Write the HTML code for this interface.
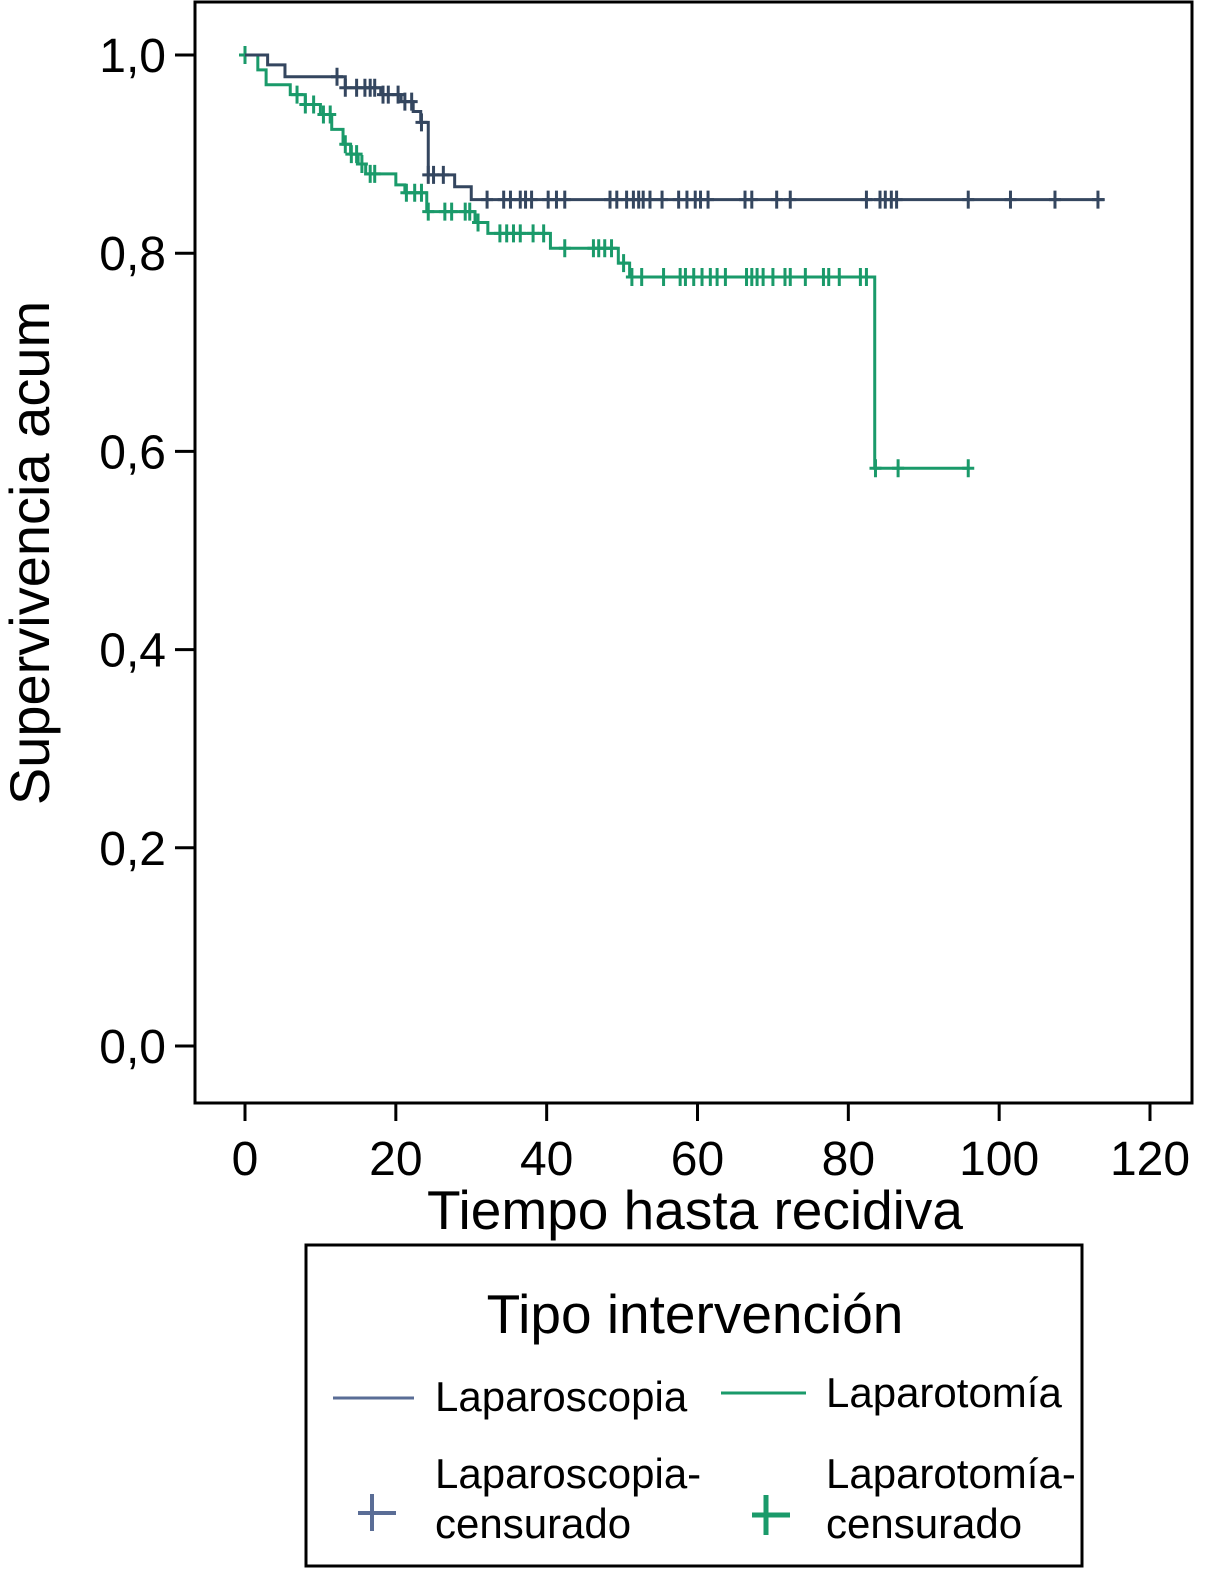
<!DOCTYPE html>
<html><head><meta charset="utf-8"><style>
html,body{margin:0;padding:0;background:#fff;width:1206px;height:1582px;overflow:hidden}
svg{display:block;font-family:"Liberation Sans",Arial,sans-serif}
</style></head><body>
<svg id="chart" width="1206" height="1582" viewBox="0 0 1206 1582">
<rect x="195" y="2" width="997" height="1101" fill="none" stroke="#000" stroke-width="3"/>
<g id="axes"></g>
<g id="series"></g>
<text x="695" y="1229" font-size="55" text-anchor="middle">Tiempo hasta recidiva</text>
<text transform="translate(49,553) rotate(-90)" font-size="56" text-anchor="middle">Supervivencia acum</text>
<g>
<rect x="306" y="1245" width="776" height="321" fill="none" stroke="#000" stroke-width="3"/>
<text x="695" y="1333" font-size="55" text-anchor="middle">Tipo intervención</text>
<line x1="333" y1="1398" x2="414" y2="1398" stroke="#5a6d96" stroke-width="3"/>
<text x="435" y="1411" font-size="42">Laparoscopia</text>
<line x1="721" y1="1393" x2="806" y2="1393" stroke="#1a9a6a" stroke-width="3"/>
<text x="826" y="1407" font-size="42">Laparotomía</text>
<path d="M358 1513H396M372 1494V1531" stroke="#5a6d96" stroke-width="4"/>
<text x="435" y="1488" font-size="42">Laparoscopia-</text>
<text x="435" y="1538" font-size="42">censurado</text>
<path d="M752 1515H790M766 1495V1535" stroke="#1a9a6a" stroke-width="5"/>
<text x="826" y="1488" font-size="42">Laparotomía-</text>
<text x="826" y="1538" font-size="42">censurado</text>
</g>
</svg>
<script>
const xTicks=[0,20,40,60,80,100,120];
const yTicks=[0,0.2,0.4,0.6,0.8,1.0];
const yTickLabels=["0,0","0,2","0,4","0,6","0,8","1,0"];
const lapTimes=[0,3,5.3,13.3,18,20.7,22.3,23.3,24.3,27.8,30];
const lapSurv=[1,0.99,0.978,0.967,0.96,0.953,0.943,0.932,0.879,0.867,0.854];
const lapEnd=114;
const lapCens=[12.2,13.3,14.8,15.9,16.6,17.2,18.3,19.0,20.3,21.2,22.1,23.4,24.3,25.0,26.3,32.1,34.3,35.2,36.5,37.2,38.0,40.2,41.3,42.4,48.4,49.3,50.6,51.5,52.2,52.8,53.7,55.3,57.5,58.6,59.7,60.4,61.4,66.3,67.2,70.5,72.3,82.4,84.2,84.9,85.7,86.4,95.9,101.5,107.4,113.1];
const lotTimes=[0,1.7,2.8,6,8,10,11.5,13,14,15,16,20,21.2,24.1,30.5,32.2,40.5,49.5,51,83.5];
const lotSurv=[1,0.985,0.97,0.96,0.95,0.94,0.925,0.91,0.9,0.89,0.88,0.869,0.861,0.842,0.831,0.82,0.805,0.79,0.776,0.583];
const lotEnd=96;
const lotCens=[0,6.9,8.0,9.1,10.4,11.3,13.3,14.1,14.8,15.5,16.6,17.2,21.4,22.5,23.4,24.3,26.5,27.4,29.2,29.8,30.9,33.8,34.7,35.6,36.5,38.2,39.6,42.4,46.2,46.9,47.7,48.6,50.2,51.3,52.6,55.5,57.7,58.4,59.5,60.6,61.7,62.6,63.7,66.5,67.2,67.9,68.7,70.0,71.6,72.3,74.3,76.7,77.4,78.8,81.6,82.4,83.6,86.6,95.9];

const X=t=>245+t*(905/120);
const Y=s=>1046-s*991;
const NS="http://www.w3.org/2000/svg";
function mk(tag,attrs,parent){const e=document.createElementNS(NS,tag);for(const k in attrs)e.setAttribute(k,attrs[k]);parent.appendChild(e);return e;}
const axes=document.getElementById('axes');
xTicks.forEach((v,i)=>{
  const l=mk('line',{x1:X(v),x2:X(v),y1:1103,y2:1121,stroke:'#000','stroke-width':3},axes);
  
  
  const t=mk('text',{x:X(v),y:1175,'font-size':48,'text-anchor':'middle'},axes);
  t.textContent=v;
  
  
});
yTicks.forEach((v,i)=>{
  const l=mk('line',{x1:175,x2:195,y1:Y(v),y2:Y(v),stroke:'#000','stroke-width':3},axes);
  
  
  const t=mk('text',{x:166,y:Y(v)+17,'font-size':48,'text-anchor':'end'},axes);
  t.textContent=yTickLabels[i];
  
  
});
function survAt(times,surv,t){let s=surv[0];for(let i=0;i<times.length;i++){if(times[i]<=t)s=surv[i];}return s;}
const ser=document.getElementById('series');
function draw(times,surv,end,cens,color,name){
  let d='M'+X(times[0])+' '+Y(surv[0]);
  for(let i=1;i<times.length;i++){d+=' H'+X(times[i])+' V'+Y(surv[i]);}
  d+=' H'+X(end);
  const p=mk('path',{d:d,fill:'none',stroke:color,'stroke-width':3},ser);
  
  
  cens.forEach(c=>{
    const s=survAt(times,surv,c);
    const m=mk('path',{d:'M'+(X(c)-6)+' '+Y(s)+'H'+(X(c)+6)+'M'+X(c)+' '+(Y(s)-9)+'V'+(Y(s)+9),stroke:color,'stroke-width':3},ser);
    
    
  });
}
draw(lotTimes,lotSurv,lotEnd,lotCens,'#1a9a6a','laparotomia');
draw(lapTimes,lapSurv,lapEnd,lapCens,'#34465f','laparoscopia');
</script>
</body></html>
